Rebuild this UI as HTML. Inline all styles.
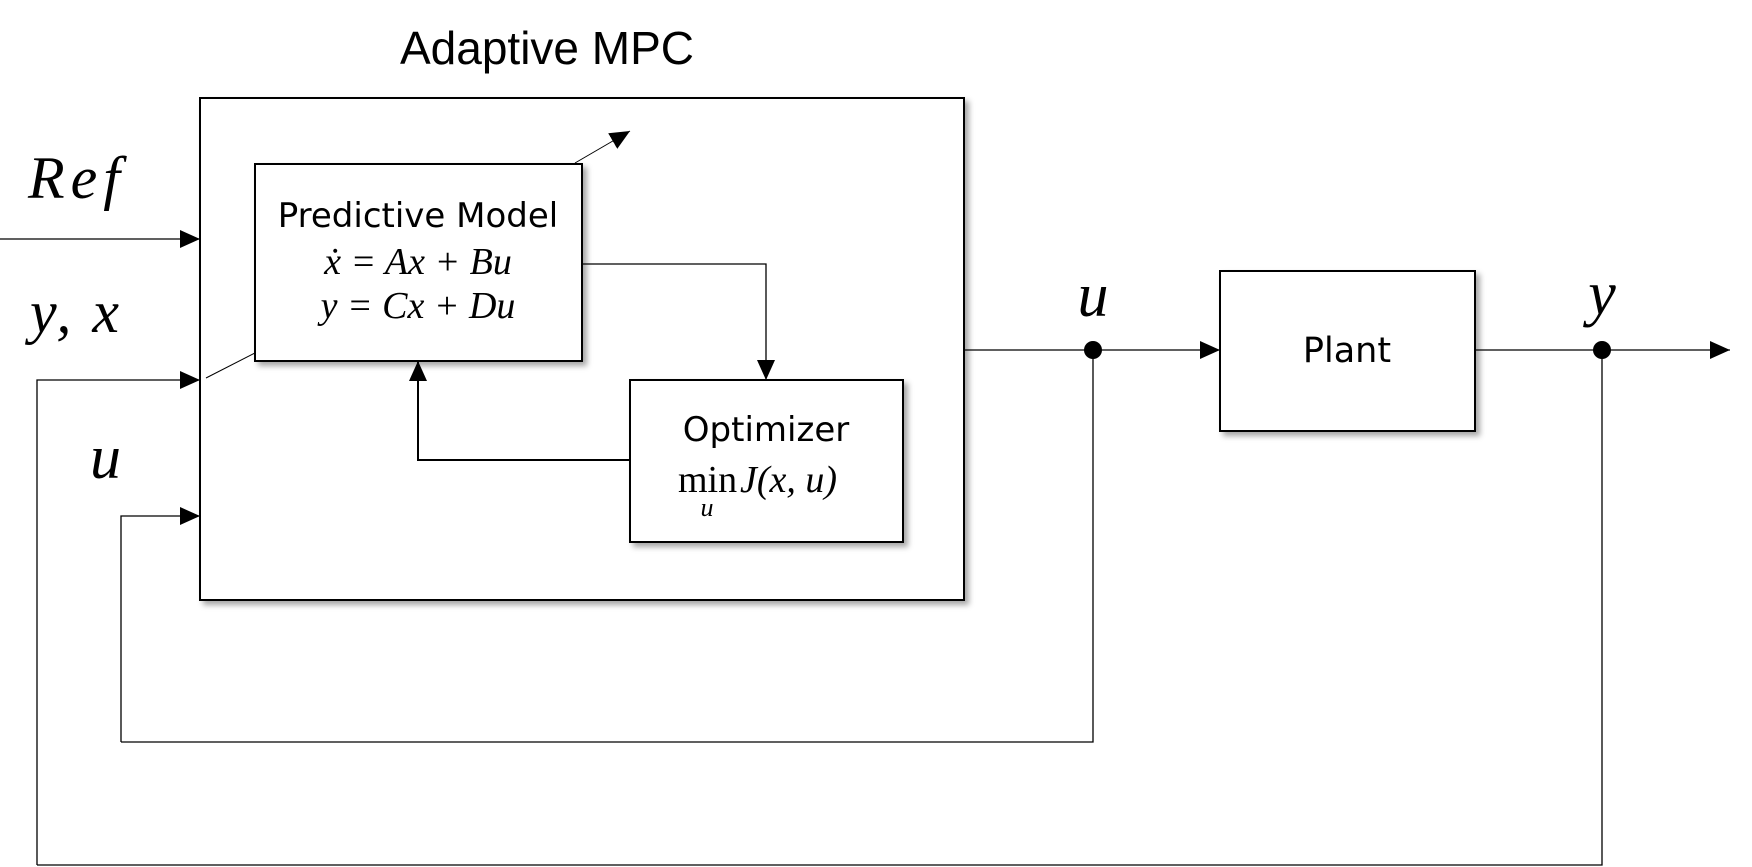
<!DOCTYPE html>
<html><head><meta charset="utf-8"><style>
html,body{margin:0;padding:0;background:#fff;}
svg{display:block}
.s{font-family:"Liberation Sans",sans-serif;}
.m{font-family:"Liberation Serif","DejaVu Serif",serif;font-style:italic;}
.j{font-family:"DejaVu Sans","Noto Sans CJK JP",sans-serif;}
</style></head><body>
<svg width="1752" height="867" viewBox="0 0 1752 867" xmlns="http://www.w3.org/2000/svg">
<defs>
<marker id="b" markerWidth="20" markerHeight="20" refX="20" refY="10" orient="auto" markerUnits="userSpaceOnUse" viewBox="0 0 20 20"><path d="M0,1 L20,10 L0,19 z" fill="#000"/></marker>
<filter id="sh" x="-5%" y="-5%" width="115%" height="115%"><feDropShadow dx="4" dy="4" stdDeviation="3" flood-color="#000" flood-opacity="0.35"/></filter>
</defs>
<text x="547" y="64" class="s" font-size="46" text-anchor="middle">Adaptive MPC</text>
<rect x="200" y="98" width="764" height="502" fill="#fff" stroke="#000" stroke-width="2" filter="url(#sh)"/>
<line x1="206" y1="378" x2="255" y2="353" stroke="#000" stroke-width="1"/>
<line x1="575" y1="163" x2="630" y2="131" stroke="#000" stroke-width="1" marker-end="url(#b)"/>
<rect x="255" y="164" width="327" height="197" fill="#fff" stroke="#000" stroke-width="2" filter="url(#sh)"/>
<rect x="630" y="380" width="273" height="162" fill="#fff" stroke="#000" stroke-width="2" filter="url(#sh)"/>
<rect x="1220" y="271" width="255" height="160" fill="#fff" stroke="#000" stroke-width="2" filter="url(#sh)"/>
<g stroke="#000" stroke-width="1.3" fill="none">
<line x1="0" y1="239" x2="200" y2="239" marker-end="url(#b)"/>
<polyline points="37,865 37,380 200,380" marker-end="url(#b)"/>
<polyline points="121,742 121,516 200,516" marker-end="url(#b)"/>
<polyline points="121,742 1093,742 1093,350"/>
<line x1="964" y1="350" x2="1220" y2="350" marker-end="url(#b)"/>
<line x1="1475" y1="350" x2="1730" y2="350" marker-end="url(#b)"/>
<polyline points="1602,350 1602,865 37,865"/>
<polyline points="582,264 766,264 766,380" marker-end="url(#b)"/>
</g>
<polyline points="630,460 418,460 418,361" stroke="#000" stroke-width="2" fill="none" marker-end="url(#b)"/>
<circle cx="1093" cy="350" r="9" fill="#000"/>
<circle cx="1602" cy="350" r="9" fill="#000"/>
<text x="28" y="198" class="m" font-size="60" letter-spacing="6">Ref</text>
<text x="30" y="332" class="m" font-size="60" letter-spacing="3">y, x</text>
<text x="90" y="478" class="m" font-size="62">u</text>
<text x="1093" y="316" class="m" font-size="62" text-anchor="middle">u</text>
<text x="1602" y="314" class="m" font-size="62" text-anchor="middle">y</text>
<text x="418" y="227" class="j" font-size="34" text-anchor="middle">Predictive Model</text>
<text x="418" y="274" class="m" font-size="38" text-anchor="middle">ẋ = Ax + Bu</text>
<text x="418" y="318" class="m" font-size="38" text-anchor="middle">y = Cx + Du</text>
<text x="766" y="441" class="j" font-size="34" text-anchor="middle">Optimizer</text>
<text x="678" y="492" font-family="Liberation Serif,serif" font-size="38">min</text>
<text x="707" y="516" class="m" font-size="26" text-anchor="middle">u</text>
<text x="740" y="492" class="m" font-size="38">J(x, u)</text>
<text x="1347" y="362" class="j" font-size="35" text-anchor="middle">Plant</text>
</svg>
</body></html>
